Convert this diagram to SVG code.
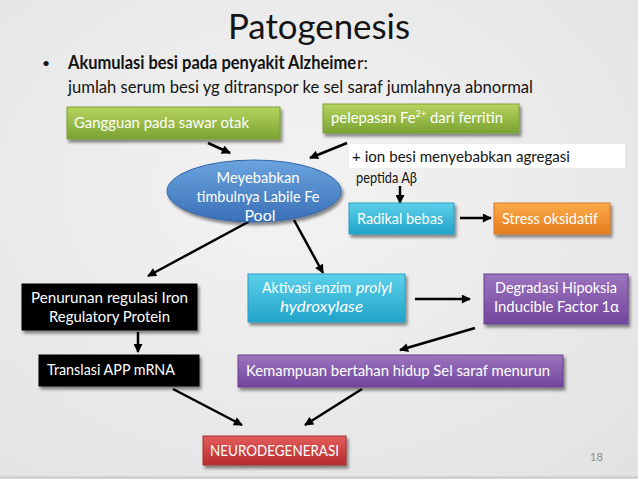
<svg xmlns="http://www.w3.org/2000/svg" width="638" height="479" viewBox="0 0 638 479">
<defs>
<radialGradient id="bg" cx="0.45" cy="0.4" r="0.8">
<stop offset="0" stop-color="#f3f3f3"/><stop offset="1" stop-color="#e2e2e2"/>
</radialGradient>
<linearGradient id="gGreen" x1="0" y1="0" x2="0" y2="1"><stop offset="0" stop-color="#b6d45e"/><stop offset="1" stop-color="#7ba232"/></linearGradient>
<linearGradient id="gCyan" x1="0" y1="0" x2="0" y2="1"><stop offset="0" stop-color="#5dd0ea"/><stop offset="1" stop-color="#20a4ca"/></linearGradient>
<linearGradient id="gOrange" x1="0" y1="0" x2="0" y2="1"><stop offset="0" stop-color="#fbab4c"/><stop offset="1" stop-color="#e67d1d"/></linearGradient>
<linearGradient id="gPurple" x1="0" y1="0" x2="0" y2="1"><stop offset="0" stop-color="#9c74be"/><stop offset="1" stop-color="#72469e"/></linearGradient>
<linearGradient id="gRed" x1="0" y1="0" x2="0" y2="1"><stop offset="0" stop-color="#e35d5d"/><stop offset="1" stop-color="#b72b2b"/></linearGradient>
<linearGradient id="gBlue" x1="0" y1="0" x2="0" y2="1"><stop offset="0" stop-color="#6ba4de"/><stop offset="1" stop-color="#3a70b8"/></linearGradient>
<filter id="sh" x="-10%" y="-20%" width="130%" height="160%">
<feDropShadow dx="2" dy="3" stdDeviation="1.6" flood-color="#000" flood-opacity="0.45"/>
</filter>
<marker id="ah" viewBox="0 0 10 10" refX="9" refY="5" markerUnits="userSpaceOnUse" markerWidth="10" markerHeight="9" orient="auto">
<path d="M0,0 L10,5 L0,10 z" fill="#000"/>
</marker>
<style>
text{font-family:Lato,"Open Sans","Liberation Sans",sans-serif;}
.t{fill:#fff;font-size:16px;}
.b{fill:#141414;font-size:18px;}
.k{fill:#141414;font-size:16px;}
.box{filter:url(#sh);stroke-width:1;}
.green{fill:url(#gGreen);stroke:#7d9f37;}
.cyan{fill:url(#gCyan);stroke:#2a9ec4;}
.orange{fill:url(#gOrange);stroke:#d97b22;}
.purple{fill:url(#gPurple);stroke:#68408f;}
.red{fill:url(#gRed);stroke:#a63030;}
.black{fill:#000;stroke:#000;}
.c{stroke:#000;stroke-width:2.5;fill:none;marker-end:url(#ah);}
</style>
</defs>
<rect width="638" height="479" fill="url(#bg)"/>
<rect x="0" y="476" width="638" height="3" fill="#d2d2d2"/>

<text x="228" y="39" font-size="35" fill="#141414" textLength="182" lengthAdjust="spacingAndGlyphs">Patogenesis</text>
<text x="42" y="68" font-size="14" fill="#141414">•</text>
<text x="68" y="69" class="b" font-weight="bold" textLength="288" lengthAdjust="spacingAndGlyphs">Akumulasi besi pada penyakit Alzheime</text>
<text x="357" y="69" class="b" textLength="11" lengthAdjust="spacingAndGlyphs">r:</text>
<text x="68" y="93" class="b" textLength="465" lengthAdjust="spacingAndGlyphs">jumlah serum besi yg ditranspor ke sel saraf jumlahnya abnormal</text>

<g id="connectors">
<line class="c" x1="208" y1="143" x2="230" y2="153"/>
<line class="c" x1="347" y1="143" x2="310" y2="158"/>
<line class="c" x1="400" y1="186" x2="400" y2="203"/>
<line class="c" x1="460" y1="218" x2="491" y2="218"/>
<line class="c" x1="250" y1="221" x2="148" y2="276"/>
<line class="c" x1="294" y1="220" x2="323" y2="273"/>
<line class="c" x1="138" y1="332" x2="138" y2="352"/>
<line class="c" x1="415" y1="299" x2="470" y2="299"/>
<line class="c" x1="475" y1="328" x2="400" y2="350"/>
<line class="c" x1="173" y1="389" x2="242" y2="425"/>
<line class="c" x1="362" y1="389" x2="305" y2="425"/>
</g>

<g id="gangguan">
<rect class="box green" x="67" y="107" width="213" height="32"/>
<text class="t" x="74" y="128" textLength="175" lengthAdjust="spacingAndGlyphs">Gangguan pada sawar otak</text>
</g>
<g id="pelepasan">
<rect class="box green" x="323" y="104" width="196" height="29"/>
<text class="t" x="331" y="123" font-size="15" textLength="172" lengthAdjust="spacingAndGlyphs">pelepasan Fe<tspan font-size="10" dy="-6">2+</tspan><tspan dy="6"> dari ferritin</tspan></text>
</g>
<g id="ion">
<rect x="349" y="144" width="276" height="24" fill="#fff"/>
<text class="k" x="352" y="162" textLength="218" lengthAdjust="spacingAndGlyphs">+  ion besi menyebabkan agregasi</text>
<text class="k" x="356" y="183" textLength="61" lengthAdjust="spacingAndGlyphs">peptida Aβ</text>
</g>
<g id="labile">
<ellipse cx="254" cy="191" rx="87" ry="31" fill="url(#gBlue)" stroke="#3566a8" filter="url(#sh)"/>
<text class="t" x="258" y="183" text-anchor="middle" font-size="15" textLength="83" lengthAdjust="spacingAndGlyphs">Meyebabkan</text>
<text class="t" x="258" y="202" text-anchor="middle" font-size="15" textLength="123" lengthAdjust="spacingAndGlyphs">timbulnya Labile Fe</text>
<text class="t" x="260" y="221" text-anchor="middle" font-size="15">Pool</text>
</g>
<g id="radikal">
<rect class="box cyan" x="349" y="203" width="105" height="31"/>
<text class="t" x="357" y="224" textLength="86" lengthAdjust="spacingAndGlyphs">Radikal bebas</text>
</g>
<g id="stress">
<rect class="box orange" x="494" y="203" width="116" height="31"/>
<text class="t" x="502" y="224" textLength="96" lengthAdjust="spacingAndGlyphs">Stress oksidatif</text>
</g>
<g id="penurunan">
<rect class="box black" x="22" y="284" width="175" height="46"/>
<text class="t" x="31" y="303" textLength="157" lengthAdjust="spacingAndGlyphs">Penurunan regulasi  Iron</text>
<text class="t" x="49" y="322" textLength="121" lengthAdjust="spacingAndGlyphs">Regulatory Protein</text>
</g>
<g id="translasi">
<rect class="box black" x="39" y="355" width="160" height="31"/>
<text class="t" x="47" y="375" textLength="128" lengthAdjust="spacingAndGlyphs">Translasi APP mRNA</text>
</g>
<g id="aktivasi">
<rect class="box cyan" x="248" y="274" width="157" height="48"/>
<text class="t" x="262" y="293" textLength="89" lengthAdjust="spacingAndGlyphs">Aktivasi enzim</text>
<text class="t" x="356" y="293" font-style="italic" textLength="36" lengthAdjust="spacingAndGlyphs">prolyl</text>
<text class="t" x="280" y="312" font-style="italic" textLength="83" lengthAdjust="spacingAndGlyphs">hydroxylase</text>
</g>
<g id="degradasi">
<rect class="box purple" x="484" y="274" width="144" height="50"/>
<text class="t" x="495" y="293" textLength="122" lengthAdjust="spacingAndGlyphs">Degradasi Hipoksia</text>
<text class="t" x="494" y="312" textLength="125" lengthAdjust="spacingAndGlyphs">Inducible Factor 1α</text>
</g>
<g id="kemampuan">
<rect class="box purple" x="238" y="355" width="325" height="32"/>
<text class="t" x="246" y="376" textLength="304" lengthAdjust="spacingAndGlyphs">Kemampuan bertahan hidup Sel saraf menurun</text>
</g>
<g id="neuro">
<rect class="box red" x="203" y="436" width="143" height="29"/>
<text class="t" x="210" y="456" textLength="129" lengthAdjust="spacingAndGlyphs">NEURODEGENERASI</text>
</g>
<text x="590" y="461" font-size="11" fill="#8c8c8c">18</text>
</svg>
